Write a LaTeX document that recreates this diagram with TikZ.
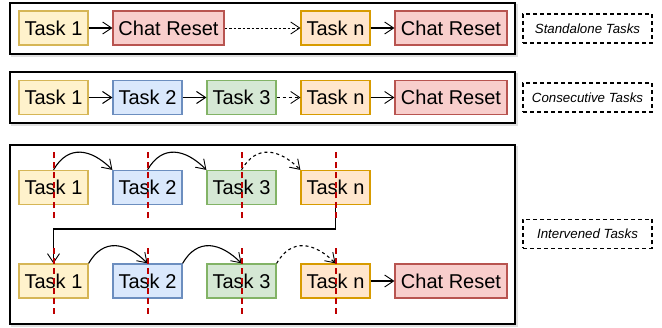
\documentclass[tikz,border=0pt]{standalone}
\usepackage{fontspec}
\setmainfont{Liberation Sans}
\usetikzlibrary{arrows.meta}
\definecolor{yfill}{HTML}{FFF2CC}\definecolor{ydraw}{HTML}{D6B656}
\definecolor{bfill}{HTML}{DAE8FC}\definecolor{bdraw}{HTML}{6C8EBF}
\definecolor{gfill}{HTML}{D5E8D4}\definecolor{gdraw}{HTML}{82B366}
\definecolor{ofill}{HTML}{FFE6CC}\definecolor{odraw}{HTML}{D79B00}
\definecolor{rfill}{HTML}{F8CECC}\definecolor{rdraw}{HTML}{B85450}
\definecolor{dashred}{RGB}{190,0,0}
\begin{document}
\begin{tikzpicture}[x=1pt,y=-1pt,
  box/.style={draw, line width=1.2pt, minimum height=34pt, inner sep=0pt,
    font=\fontsize{20}{24}\selectfont},
  tone/.style={box, fill=yfill, draw=ydraw, minimum width=69pt},
  ttwo/.style={box, fill=bfill, draw=bdraw, minimum width=69pt},
  tthree/.style={box, fill=gfill, draw=gdraw, minimum width=69pt},
  tn/.style={box, fill=ofill, draw=odraw, minimum width=69pt},
  reset/.style={box, fill=rfill, draw=rdraw, minimum width=111pt},
  frame/.style={draw=black, line width=1.5pt, inner sep=0pt},
  shadowframe/.style={draw=black!12, line width=1.5pt, inner sep=0pt},
  lab/.style={draw, line width=1.4pt, dash pattern=on 4pt off 3pt,
    minimum width=129pt, minimum height=29pt, inner sep=0pt,
    font=\fontsize{13.3}{15}\selectfont\itshape},
  conn/.style={-{Straight Barb[length=9pt,width=12pt,line width=0.9pt]}, line width=1.2pt},
  thickconn/.style={-{Straight Barb[length=9pt,width=12pt,line width=1pt]}, line width=1.8pt},
  dotconn/.style={-{Straight Barb[length=9pt,width=12pt,line width=0.8pt]}, line width=0.9pt, dash pattern=on 2.5pt off 2pt},
  dashconn/.style={-{Straight Barb[length=9pt,width=12pt,line width=0.8pt]}, line width=0.9pt, dash pattern=on 3pt off 3pt},
  arcconn/.style={-{Straight Barb[length=9pt,width=12pt,line width=0.9pt]}, line width=1.1pt, out=60, in=135, looseness=1.3},
  dasharc/.style={arcconn, dash pattern=on 3pt off 3pt},
  cutmark/.style={draw=dashred, line width=2pt, dash pattern=on 6pt off 4pt}
]
\useasboundingbox (0,0) rectangle (662,328);

% frames (with light shadow)
\node[shadowframe, minimum width=505pt, minimum height=51pt] (s1) at (264.5,30.5) {};
\node[shadowframe, minimum width=505pt, minimum height=51pt] (s2) at (264.5,99.5) {};
\node[shadowframe, minimum width=505pt, minimum height=179pt] (s3) at (264.5,236.5) {};
\node[frame, fill=white, minimum width=505pt, minimum height=51pt] (f1) at (262.5,28.5) {};
\node[frame, fill=white, minimum width=505pt, minimum height=51pt] (f2) at (262.5,97.5) {};
\node[frame, fill=white, minimum width=505pt, minimum height=179pt] (f3) at (262.5,234.5) {};

% labels
\node[lab] (l1) at (587.5,28.5) {Standalone Tasks};
\node[lab] (l2) at (587.5,97.5) {Consecutive Tasks};
\node[lab] (l3) at (587.5,234) {Intervened Tasks};

% row 1
\node[tone] (r1a) at (53.5,28) {Task 1};
\node[reset] (r1b) at (168.5,28) {Chat Reset};
\node[tn] (r1c) at (335.5,28) {Task n};
\node[reset, minimum width=112pt] (r1d) at (451,28) {Chat Reset};
\draw[conn] (r1a) -- (r1b);
\draw[dotconn] (r1b) -- (r1c);
\draw[conn] (r1c) -- (r1d);

% row 2
\node[tone] (r2a) at (53.5,97.5) {Task 1};
\node[ttwo] (r2b) at (147.5,97.5) {Task 2};
\node[tthree] (r2c) at (241.5,97.5) {Task 3};
\node[tn] (r2d) at (335.5,97.5) {Task n};
\node[reset, minimum width=112pt] (r2e) at (451,97.5) {Chat Reset};
\draw[thickconn] (r2a) -- (r2b);
\draw[thickconn] (r2b) -- (r2c);
\draw[dashconn] (r2c) -- (r2d);
\draw[conn] (r2d) -- (r2e);

% row 3 top
\node[tone] (a1) at (53.5,187.5) {Task 1};
\node[ttwo] (a2) at (147.5,187.5) {Task 2};
\node[tthree] (a3) at (241.5,187.5) {Task 3};
\node[tn] (a4) at (335.5,187.5) {Task n};

% row 3 bottom
\node[tone] (b1) at (53.5,281) {Task 1};
\node[ttwo] (b2) at (147.5,281) {Task 2};
\node[tthree] (b3) at (241.5,281) {Task 3};
\node[tn] (b4) at (335.5,281) {Task n};
\node[reset, minimum width=112pt] (b5) at (451,281) {Chat Reset};

% connectors row 3
\draw[arcconn] (a1.north) to (a2.north west);
\draw[arcconn] (a2.north) to (a3.north west);
\draw[dasharc] (a3.north) to (a4.north west);
\coordinate (turn) at (335.5,229);
\draw[conn] (a4.south) -- (turn) -| (b1.north);
\draw[arcconn] (b1.north east) to (b2.north);
\draw[arcconn] (b2.north east) to (b3.north);
\draw[dasharc] (b3.north east) to (b4.north);
\draw[conn] (b4) -- (b5);

% cut lines
\coordinate (ca1t) at ([yshift=-31pt]a1.center); \coordinate (ca1b) at ([yshift=36pt]a1.center);
\coordinate (ca2t) at ([yshift=-31pt]a2.center); \coordinate (ca2b) at ([yshift=36pt]a2.center);
\coordinate (ca3t) at ([yshift=-31pt]a3.center); \coordinate (ca3b) at ([yshift=36pt]a3.center);
\coordinate (ca4t) at ([yshift=-31pt]a4.center); \coordinate (ca4b) at ([yshift=36pt]a4.center);
\coordinate (cb1t) at ([yshift=-33pt]b1.center); \coordinate (cb1b) at ([yshift=36pt]b1.center);
\coordinate (cb2t) at ([yshift=-33pt]b2.center); \coordinate (cb2b) at ([yshift=36pt]b2.center);
\coordinate (cb3t) at ([yshift=-33pt]b3.center); \coordinate (cb3b) at ([yshift=36pt]b3.center);
\coordinate (cb4t) at ([yshift=-33pt]b4.center); \coordinate (cb4b) at ([yshift=36pt]b4.center);
\draw[cutmark] (ca1t) -- (ca1b);
\draw[cutmark] (ca2t) -- (ca2b);
\draw[cutmark] (ca3t) -- (ca3b);
\draw[cutmark] (ca4t) -- (ca4b);
\draw[cutmark] (cb1t) -- (cb1b);
\draw[cutmark] (cb2t) -- (cb2b);
\draw[cutmark] (cb3t) -- (cb3b);
\draw[cutmark] (cb4t) -- (cb4b);
\end{tikzpicture}
\end{document}
